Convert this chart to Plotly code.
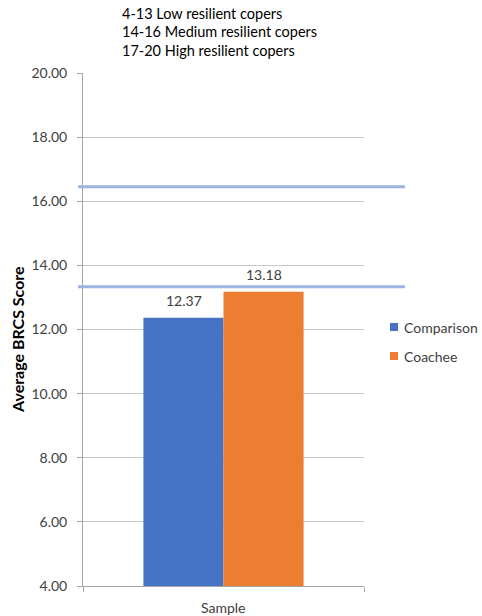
import plotly.graph_objects as go

categories = ["Sample"]
series_names = ["Comparison", "Coachee"]
comparison_vals = [12.37]
coachee_vals = [13.18]
colors = ["#4472C4", "#ED7D31"]
threshold_vals = [16.45, 13.33]
y_ticks = [4, 6, 8, 10, 12, 14, 16, 18, 20]
note_lines = ["4-13 Low resilient copers", "14-16 Medium resilient copers", "17-20 High resilient copers"]

FONT = "Lato"
FS = 14
TXT = "#404040"
L, R, T, B = 83, 364, 73, 586
PW, PH = R - L, B - T

def px(x):
    return (x - L) / PW

def py(y):
    return (B - y) / PH

fig = go.Figure()
series_vals = [comparison_vals, coachee_vals]
for name, vals, col in zip(series_names, series_vals, colors):
    fig.add_trace(go.Bar(
        x=categories, y=vals, name=name, marker=dict(color=col, line=dict(width=0)),
        showlegend=False,
    ))

# value labels above bars
bar_half = 40
for k, (vals, sh) in enumerate(zip(series_vals, [-bar_half, bar_half])):
    for c, v in zip(categories, vals):
        fig.add_annotation(x=c, y=v, text=f"{v:.2f}", showarrow=False, xshift=sh,
                           yanchor="bottom", yshift=7,
                           font=dict(family=FONT, size=FS, color=TXT))

# manual legend
for i, (name, col) in enumerate(zip(series_names, colors)):
    yc = 327 + 29 * i
    fig.add_shape(type="rect", xref="paper", yref="paper", x0=px(390), x1=px(398),
                  y0=py(yc + 4), y1=py(yc - 4), fillcolor=col, line=dict(width=0))
    fig.add_annotation(text=name, xref="paper", yref="paper", x=px(402), xanchor="left",
                       y=py(yc), yanchor="middle", showarrow=False,
                       font=dict(family=FONT, size=FS, color=TXT))

for v in threshold_vals:
    fig.add_shape(type="line", xref="paper", yref="y", x0=px(78), x1=px(405), y0=v, y1=v,
                  line=dict(color="#9DB4DF", width=3), layer="above")

for i, t in enumerate(note_lines):
    fig.add_annotation(text=t, xref="paper", yref="paper", x=px(120), xanchor="left",
                       y=py(13 + 18.7 * i), yanchor="middle", showarrow=False,
                       font=dict(family=FONT, size=14.5, color="#000000"))

fig.add_annotation(text="<b>Average BRCS Score</b>", xref="paper", yref="paper",
                   x=px(17), xanchor="center", y=py(340), yanchor="middle", textangle=-90,
                   showarrow=False, font=dict(family=FONT, size=16, color="#000000"))
fig.add_annotation(text="Sample", xref="paper", yref="paper", x=0.5, xanchor="center",
                   y=py(607), yanchor="middle", showarrow=False,
                   font=dict(family=FONT, size=FS, color=TXT))

fig.update_layout(
    width=482, height=616, margin=dict(l=L, r=482 - R, t=T, b=616 - B, autoexpand=False),
    paper_bgcolor="white", plot_bgcolor="white", barmode="group", bargap=0.43, bargroupgap=0,
    showlegend=False,
    font=dict(family=FONT, size=FS, color=TXT),
)
fig.update_xaxes(showticklabels=False, ticks="outside", tickson="boundaries", ticklen=5,
                 tickcolor="#A6A6A6", showline=True, linecolor="#A6A6A6", linewidth=1,
                 showgrid=False, range=[-0.5, 0.5])
fig.update_yaxes(range=[4, 20], tickvals=y_ticks, ticktext=[f"{v:.2f}" for v in y_ticks],
                 ticks="outside", ticklen=5, tickcolor="#A6A6A6", showline=True,
                 linecolor="#A6A6A6", linewidth=1, showgrid=True, gridcolor="#C8C8C8",
                 gridwidth=1, zeroline=False, ticklabelstandoff=7,
                 tickfont=dict(family=FONT, size=FS, color=TXT))

fig.write_html("out.html")
